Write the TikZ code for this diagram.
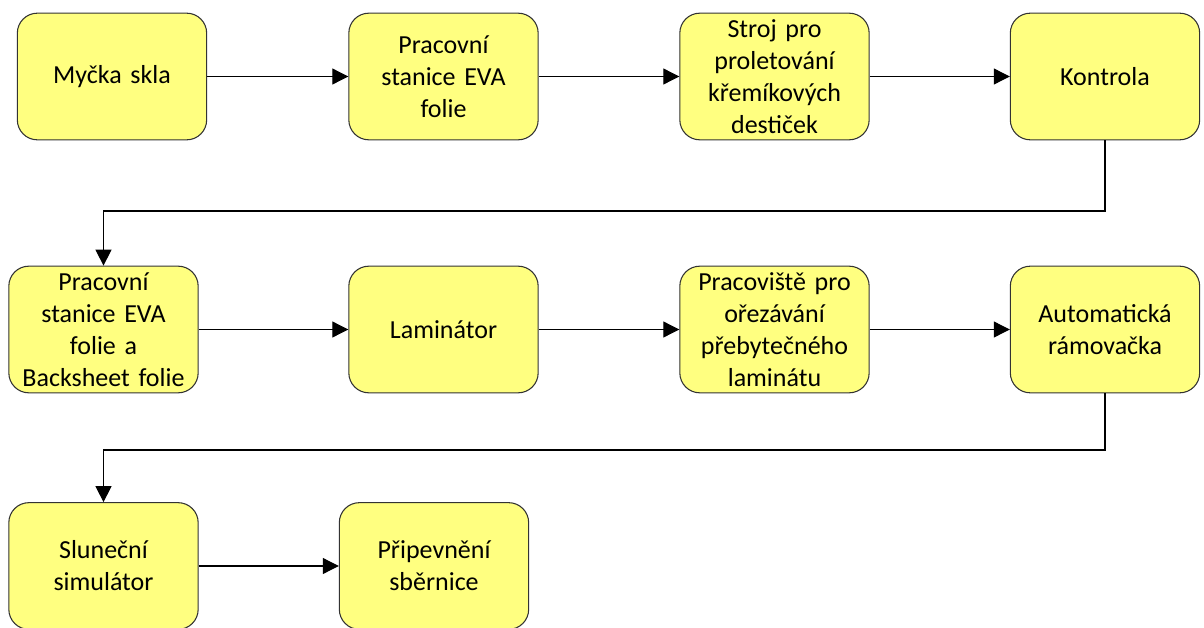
\documentclass[tikz,border=0pt]{standalone}
\usepackage{fontspec}
\setmainfont{Carlito}
\usetikzlibrary{arrows.meta}
\definecolor{boxfill}{HTML}{FFFF80}
\definecolor{boxline}{HTML}{333333}
\begin{document}
\begin{tikzpicture}[x=0.75pt,y=-0.75pt,
  box/.style={draw=boxline,fill=boxfill,line width=0.8pt,rounded corners=15pt,
    minimum width=142pt,minimum height=95pt,text width=135pt,align=center,inner sep=0pt,
    font=\fontsize{19.5pt}{24pt}\selectfont},
  conn/.style={line width=0.8pt,-{Triangle[length=12pt,width=12pt]}}]
\useasboundingbox (0,0) rectangle (1204,628);
\node[box] (b1) at (112,76.5) {Myčka skla};
\node[box] (b2) at (443.5,76.5) {Pracovní\\stanice EVA\\folie};
\node[box] (b3) at (774.5,76.5) {Stroj pro\\proletování\\křemíkových\\destiček};
\node[box] (b4) at (1105,76.5) {Kontrola};
\node[box] (b5) at (103.5,329.5) {Pracovní\\stanice EVA\\folie a\\Backsheet folie};
\node[box] (b6) at (443.5,329.5) {Laminátor};
\node[box] (b7) at (774.5,329.5) {Pracoviště pro\\ořezávání\\přebytečného\\laminátu};
\node[box] (b8) at (1105,329.5) {Automatická\\rámovačka};
\node[box] (b9) at (103.5,566) {Sluneční\\simulátor};
\node[box] (b10) at (434,566) {Připevnění\\sběrnice};
\coordinate (k1) at (1105,211);
\coordinate (k2) at (103.5,211);
\coordinate (k3) at (1105,450);
\coordinate (k4) at (103.5,450);
\draw[conn] (b1) -- (b2);
\draw[conn] (b2) -- (b3);
\draw[conn] (b3) -- (b4);
\draw[conn] (b4.south) -- (k1) -- (k2) -- (b5.north);
\draw[conn] (b5) -- (b6);
\draw[conn] (b6) -- (b7);
\draw[conn] (b7) -- (b8);
\draw[conn] (b8.south) -- (k3) -- (k4) -- (b9.north);
\draw[conn] (b9) -- (b10);
\end{tikzpicture}
\end{document}
